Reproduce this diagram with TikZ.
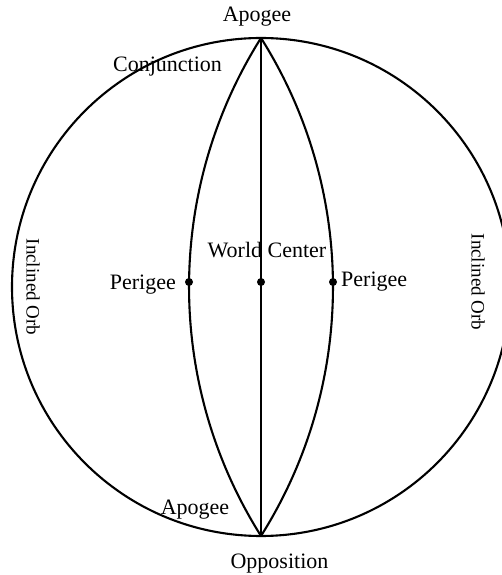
\documentclass[tikz,border=0pt]{standalone}
\usepackage{fontspec}
\setmainfont{Liberation Serif}
\begin{document}
\begin{tikzpicture}[x=1pt,y=1pt,
  lbl/.style={font=\fontsize{22}{26}\selectfont, inner sep=0pt, anchor=base},
  orb/.style={font=\fontsize{19}{23}\selectfont, inner sep=0pt, rotate=-90},
  dotmark/.style={circle, fill=black, inner sep=0pt, minimum size=8pt},
  ln/.style={line width=2.1pt}]
\useasboundingbox (0,0) rectangle (502,575);
\clip (0,0) rectangle (502,575);
\coordinate (O) at (261,288);
\coordinate (T) at (261,537);
\coordinate (B) at (261,39);
\draw[ln] (O) circle[radius=249];
\draw[ln] (T) arc[start angle=147.75, end angle=212.25, radius=466.6];
\draw[ln] (T) arc[start angle=32.25, end angle=-32.25, radius=466.6];
\draw[ln] (T) -- (B);
\node[dotmark] (pl) at (189,293) {};
\node[dotmark] (wc) at (261,293) {};
\node[dotmark] (pr) at (333,293) {};
\node[lbl] (apt) at (257,553) {Apogee};
\node[lbl] (conj) at (167.5,503) {Conjunction};
\node[lbl] (world) at (267,317) {World Center};
\node[lbl, anchor=base east] (perl) at (176,285) {Perigee};
\node[lbl, anchor=base west] (perr) at (341,288) {Perigee};
\node[lbl] (apb) at (195,60) {Apogee};
\node[lbl] (opp) at (279.5,6) {Opposition};
\node[orb] (orbl) at (33,288) {Inclined Orb};
\node[orb] (orbr) at (478,293) {Inclined Orb};
\end{tikzpicture}
\end{document}
